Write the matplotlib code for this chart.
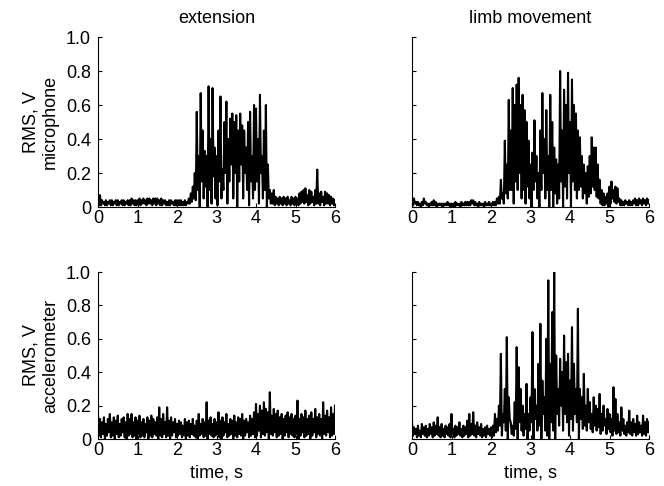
import numpy as np
import matplotlib.pyplot as plt

plt.rcParams["font.family"] = ["Liberation Sans", "DejaVu Sans"]

# samples every 0.05 s; each sample is a local peak followed by a local dip
step = 0.05
t = np.arange(121) * step

ext_mic_hi = [0.04, 0.07, 0.04, 0.03, 0.04, 0.03, 0.04, 0.04, 0.03, 0.04,
              0.04, 0.03, 0.04, 0.04, 0.03, 0.04, 0.04, 0.05, 0.04, 0.04,
              0.04, 0.05, 0.04, 0.05, 0.04, 0.05, 0.05, 0.04, 0.05, 0.05,
              0.05, 0.04, 0.05, 0.04, 0.04, 0.03, 0.04, 0.04, 0.03, 0.04,
              0.04, 0.04, 0.04, 0.03, 0.04, 0.03, 0.05, 0.08, 0.12, 0.20,
              0.56, 0.30, 0.67, 0.45, 0.33, 0.30, 0.71, 0.40, 0.70, 0.35,
              0.30, 0.45, 0.65, 0.22, 0.50, 0.62, 0.40, 0.52, 0.55, 0.50,
              0.54, 0.45, 0.55, 0.48, 0.45, 0.35, 0.50, 0.56, 0.30, 0.60,
              0.58, 0.40, 0.66, 0.30, 0.45, 0.60, 0.25, 0.10, 0.08, 0.10,
              0.06, 0.05, 0.06, 0.05, 0.06, 0.05, 0.06, 0.04, 0.06, 0.05,
              0.06, 0.05, 0.08, 0.09, 0.10, 0.11, 0.07, 0.10, 0.09, 0.06,
              0.10, 0.22, 0.08, 0.09, 0.06, 0.09, 0.08, 0.07, 0.06, 0.05,
              0.04]
ext_mic_lo = [0.01, 0.01, 0.02, 0.01, 0.01, 0.02, 0.01, 0.01, 0.02, 0.01,
              0.01, 0.02, 0.01, 0.01, 0.02, 0.01, 0.01, 0.02, 0.01, 0.01,
              0.02, 0.01, 0.02, 0.02, 0.01, 0.02, 0.02, 0.01, 0.02, 0.01,
              0.02, 0.01, 0.01, 0.02, 0.01, 0.01, 0.01, 0.02, 0.01, 0.01,
              0.01, 0.01, 0.01, 0.01, 0.01, 0.02, 0.02, 0.03, 0.05, 0.04,
              0.10, 0.00, 0.15, 0.05, 0.12, 0.00, 0.10, 0.02, 0.18, 0.05,
              0.01, 0.15, 0.05, 0.10, 0.20, 0.02, 0.15, 0.25, 0.05, 0.20,
              0.00, 0.15, 0.25, 0.05, 0.20, 0.10, 0.01, 0.15, 0.05, 0.10,
              0.15, 0.02, 0.20, 0.05, 0.10, 0.00, 0.05, 0.02, 0.02, 0.01,
              0.02, 0.01, 0.02, 0.01, 0.02, 0.01, 0.02, 0.01, 0.02, 0.01,
              0.02, 0.01, 0.02, 0.03, 0.02, 0.03, 0.01, 0.02, 0.03, 0.01,
              0.02, 0.02, 0.01, 0.03, 0.01, 0.02, 0.02, 0.01, 0.02, 0.01,
              0.01]

limb_mic_hi = [0.04, 0.05, 0.03, 0.03, 0.02, 0.03, 0.05, 0.03, 0.02, 0.02,
               0.03, 0.04, 0.03, 0.02, 0.02, 0.02, 0.02, 0.02, 0.03, 0.02,
               0.02, 0.02, 0.03, 0.02, 0.02, 0.03, 0.02, 0.03, 0.03, 0.03,
               0.04, 0.04, 0.03, 0.02, 0.03, 0.02, 0.02, 0.03, 0.02, 0.03,
               0.02, 0.03, 0.03, 0.05, 0.06, 0.16, 0.08, 0.39, 0.25, 0.63,
               0.45, 0.70, 0.60, 0.72, 0.76, 0.60, 0.66, 0.57, 0.50, 0.39,
               0.25, 0.32, 0.51, 0.30, 0.20, 0.45, 0.67, 0.40, 0.57, 0.30,
               0.66, 0.50, 0.35, 0.28, 0.25, 0.80, 0.45, 0.69, 0.60, 0.79,
               0.50, 0.75, 0.60, 0.55, 0.45, 0.41, 0.30, 0.25, 0.20, 0.24,
               0.30, 0.41, 0.35, 0.35, 0.25, 0.16, 0.10, 0.08, 0.06, 0.08,
               0.12, 0.15, 0.10, 0.12, 0.11, 0.05, 0.04, 0.03, 0.04, 0.03,
               0.04, 0.03, 0.04, 0.05, 0.04, 0.05, 0.04, 0.05, 0.04, 0.05,
               0.04]
limb_mic_lo = [0.01, 0.02, 0.01, 0.01, 0.00, 0.01, 0.02, 0.01, 0.00, 0.01,
               0.01, 0.01, 0.00, 0.01, 0.01, 0.00, 0.01, 0.01, 0.01, 0.00,
               0.01, 0.00, 0.01, 0.01, 0.00, 0.01, 0.01, 0.01, 0.01, 0.01,
               0.02, 0.01, 0.01, 0.00, 0.01, 0.01, 0.00, 0.01, 0.01, 0.01,
               0.01, 0.01, 0.01, 0.02, 0.02, 0.05, 0.02, 0.08, 0.05, 0.10,
               0.10, 0.02, 0.15, 0.10, 0.20, 0.05, 0.10, 0.02, 0.12, 0.05,
               0.00, 0.10, 0.15, 0.05, 0.00, 0.10, 0.20, 0.05, 0.10, 0.00,
               0.10, 0.00, 0.08, 0.02, 0.05, 0.15, 0.00, 0.12, 0.05, 0.20,
               0.00, 0.15, 0.10, 0.05, 0.10, 0.12, 0.05, 0.08, 0.02, 0.06,
               0.08, 0.12, 0.10, 0.06, 0.05, 0.02, 0.01, 0.01, 0.02, 0.00,
               0.02, 0.05, 0.03, 0.02, 0.03, 0.01, 0.01, 0.01, 0.02, 0.01,
               0.01, 0.01, 0.02, 0.01, 0.01, 0.02, 0.01, 0.02, 0.01, 0.02,
               0.01]

ext_acc_hi = [0.14, 0.12, 0.10, 0.13, 0.09, 0.12, 0.15, 0.10, 0.13, 0.11,
              0.14, 0.09, 0.12, 0.13, 0.10, 0.15, 0.12, 0.15, 0.10, 0.13,
              0.11, 0.14, 0.10, 0.12, 0.09, 0.13, 0.11, 0.14, 0.12, 0.10,
              0.13, 0.19, 0.12, 0.15, 0.10, 0.19, 0.11, 0.13, 0.10, 0.12,
              0.09, 0.11, 0.10, 0.08, 0.12, 0.10, 0.11, 0.09, 0.12, 0.08,
              0.11, 0.15, 0.09, 0.12, 0.10, 0.22, 0.11, 0.13, 0.09, 0.12,
              0.10, 0.16, 0.11, 0.13, 0.10, 0.15, 0.09, 0.12, 0.11, 0.14,
              0.10, 0.13, 0.12, 0.15, 0.11, 0.12, 0.10, 0.14, 0.12, 0.16,
              0.21, 0.15, 0.20, 0.17, 0.22, 0.18, 0.16, 0.28, 0.14, 0.18,
              0.15, 0.17, 0.13, 0.15, 0.12, 0.14, 0.16, 0.13, 0.15, 0.12,
              0.14, 0.23, 0.12, 0.15, 0.13, 0.17, 0.12, 0.14, 0.16, 0.12,
              0.18, 0.13, 0.15, 0.12, 0.22, 0.14, 0.17, 0.13, 0.19, 0.15,
              0.20]
ext_acc_lo = [0.02, 0.01, 0.03, 0.00, 0.02, 0.04, 0.01, 0.02, 0.00, 0.03,
              0.01, 0.02, 0.04, 0.01, 0.00, 0.02, 0.03, 0.01, 0.02, 0.00,
              0.03, 0.01, 0.02, 0.01, 0.04, 0.00, 0.02, 0.01, 0.03, 0.02,
              0.00, 0.02, 0.01, 0.03, 0.01, 0.02, 0.00, 0.02, 0.04, 0.01,
              0.02, 0.03, 0.01, 0.02, 0.00, 0.02, 0.01, 0.03, 0.02, 0.01,
              0.00, 0.02, 0.03, 0.01, 0.02, 0.00, 0.03, 0.02, 0.01, 0.02,
              0.03, 0.01, 0.00, 0.02, 0.04, 0.01, 0.02, 0.03, 0.00, 0.02,
              0.01, 0.03, 0.02, 0.00, 0.02, 0.04, 0.01, 0.02, 0.03, 0.01,
              0.02, 0.05, 0.01, 0.03, 0.02, 0.04, 0.00, 0.03, 0.02, 0.04,
              0.01, 0.02, 0.03, 0.00, 0.02, 0.04, 0.01, 0.03, 0.02, 0.01,
              0.03, 0.00, 0.02, 0.04, 0.01, 0.02, 0.03, 0.00, 0.02, 0.04,
              0.01, 0.03, 0.02, 0.00, 0.03, 0.02, 0.04, 0.01, 0.02, 0.03,
              0.02]

limb_acc_hi = [0.10, 0.07, 0.06, 0.08, 0.05, 0.09, 0.07, 0.08, 0.06, 0.09,
               0.07, 0.10, 0.08, 0.13, 0.07, 0.09, 0.06, 0.08, 0.07, 0.09,
               0.15, 0.06, 0.08, 0.07, 0.10, 0.06, 0.08, 0.07, 0.11, 0.15,
               0.09, 0.16, 0.08, 0.10, 0.07, 0.09, 0.06, 0.07, 0.08, 0.06,
               0.07, 0.08, 0.15, 0.12, 0.20, 0.51, 0.15, 0.30, 0.61, 0.25,
               0.10, 0.08, 0.22, 0.55, 0.43, 0.30, 0.20, 0.15, 0.33, 0.15,
               0.25, 0.64, 0.30, 0.20, 0.45, 0.69, 0.35, 0.25, 0.60, 0.95,
               0.45, 0.76, 1.00, 0.50, 0.30, 0.48, 0.40, 0.62, 0.46, 0.51,
               0.35, 0.67, 0.45, 0.30, 0.78, 0.30, 0.25, 0.39, 0.20, 0.30,
               0.22, 0.15, 0.25, 0.20, 0.18, 0.27, 0.15, 0.20, 0.12, 0.18,
               0.15, 0.12, 0.31, 0.24, 0.15, 0.10, 0.19, 0.12, 0.08, 0.10,
               0.17, 0.10, 0.12, 0.09, 0.14, 0.10, 0.08, 0.14, 0.10, 0.12,
               0.10]
limb_acc_lo = [0.02, 0.03, 0.01, 0.02, 0.01, 0.03, 0.02, 0.01, 0.02, 0.03,
               0.01, 0.02, 0.03, 0.02, 0.01, 0.02, 0.01, 0.03, 0.02, 0.01,
               0.03, 0.01, 0.02, 0.03, 0.02, 0.01, 0.02, 0.03, 0.01, 0.02,
               0.03, 0.02, 0.01, 0.03, 0.02, 0.01, 0.02, 0.01, 0.03, 0.02,
               0.01, 0.02, 0.04, 0.05, 0.08, 0.02, 0.10, 0.05, 0.00, 0.12,
               0.03, 0.02, 0.06, 0.00, 0.10, 0.05, 0.02, 0.06, 0.00, 0.05,
               0.10, 0.00, 0.12, 0.05, 0.08, 0.00, 0.15, 0.05, 0.02, 0.00,
               0.10, 0.05, 0.00, 0.15, 0.08, 0.20, 0.05, 0.15, 0.10, 0.02,
               0.12, 0.05, 0.15, 0.10, 0.00, 0.12, 0.06, 0.08, 0.05, 0.10,
               0.06, 0.04, 0.08, 0.05, 0.07, 0.03, 0.05, 0.08, 0.03, 0.06,
               0.04, 0.02, 0.05, 0.03, 0.04, 0.02, 0.05, 0.03, 0.02, 0.04,
               0.03, 0.02, 0.04, 0.02, 0.03, 0.04, 0.02, 0.03, 0.02, 0.04,
               0.03]

titles = ["extension", "limb movement"]
ylabels = ["RMS, V\nmicrophone", "RMS, V\naccelerometer"]
yticks = [0, 0.2, 0.4, 0.6, 0.8, 1.0]
ytick_labels = ["0", "0.2", "0.4", "0.6", "0.8", "1.0"]
xticks = [0, 1, 2, 3, 4, 5, 6]

panels = [[(ext_mic_hi, ext_mic_lo), (limb_mic_hi, limb_mic_lo)],
          [(ext_acc_hi, ext_acc_lo), (limb_acc_hi, limb_acc_lo)]]

fig = plt.figure(figsize=(6.64, 4.86), dpi=100)
lefts = [98 / 664, 412 / 664]
width = 237 / 664
bottoms = [1 - 207 / 486, 1 - 439 / 486]
heights = [170 / 486, 167 / 486]

for r in range(2):
    for c in range(2):
        ax = fig.add_axes([lefts[c], bottoms[r], width, heights[r]])
        hi, lo = panels[r][c]
        # interleave each peak with the dip that follows it
        xs = np.column_stack([t, t + step / 2]).ravel()[:-1]
        ys = np.column_stack([hi, lo]).ravel()[:-1]
        ax.plot(xs, ys, color="black", lw=1.5)
        ax.set_xlim(0, 6)
        ax.set_ylim(0, 1.0)
        ax.set_xticks(xticks)
        ax.set_yticks(yticks)
        if c == 0:
            ax.set_yticklabels(ytick_labels)
            ax.set_ylabel(ylabels[r], fontsize=13, labelpad=5)
        else:
            ax.set_yticklabels([])
        if r == 0:
            ax.set_title(titles[c], fontsize=13, pad=10)
        else:
            ax.set_xlabel("time, s", fontsize=13, labelpad=4)
        for s in ["top", "right"]:
            ax.spines[s].set_visible(False)
        ax.tick_params(direction="in", length=3, labelsize=13)
        ax.tick_params(axis="x", pad=2)
        ax.tick_params(axis="y", pad=5)

fig.savefig("out.png", dpi=100)
